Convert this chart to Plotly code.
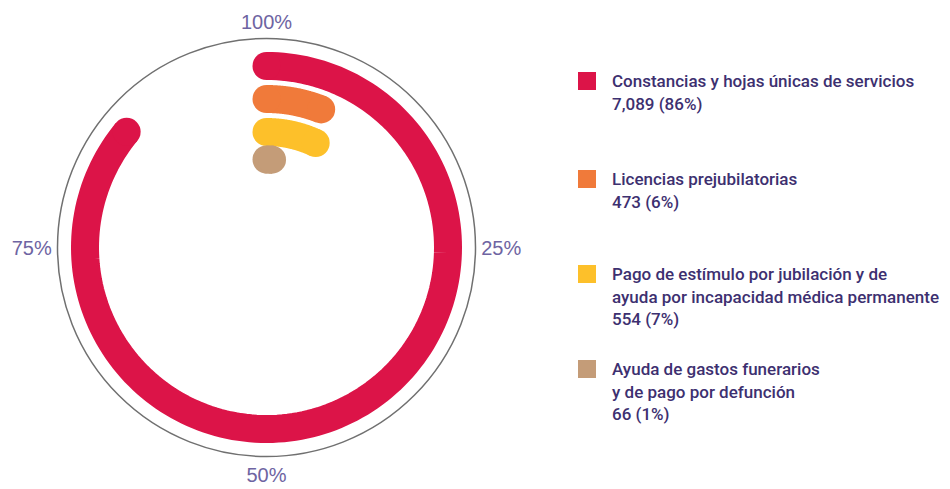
import numpy as np
import plotly.graph_objects as go

# ---- data ----
categories = [
    "Constancias y hojas únicas de servicios",
    "Licencias prejubilatorias",
    "Pago de estímulo por jubilación y de<br>ayuda por incapacidad médica permanente",
    "Ayuda de gastos funerarios<br>y de pago por defunción",
]
counts = [7089, 473, 554, 66]
percents = [86, 6, 7, 1]
colors = ["#DC1448", "#F07A3A", "#FDC02A", "#C49C78"]
tick_vals = [0, 90, 180, 270]
tick_labels = ["100%", "25%", "50%", "75%"]

# ---- style ----
ring_r = [181.5, 148.5, 115.5, 88.0]
R_MAX = 209.0
LINE_W = 28
TXT = "#3D3070"
TICK_TXT = "#6E64A2"
FONT = "Roboto, Liberation Sans, sans-serif"
TICK_FONT = "Liberation Sans, Roboto, sans-serif"

fig = go.Figure()
for cat, pct, col, r in zip(categories, percents, colors, ring_r):
    end = pct * 3.6
    th = np.linspace(0, end, 180)
    fig.add_trace(go.Scatterpolar(
        r=[r] * len(th), theta=th, mode="lines",
        line=dict(color=col, width=LINE_W), hoverinfo="skip", showlegend=False))
    fig.add_trace(go.Scatterpolar(
        r=[r, r], theta=[0, end], mode="markers",
        marker=dict(color=col, size=LINE_W, line=dict(width=0)),
        hoverinfo="skip", showlegend=False))

W, H = 950, 489
cx, cy = 266.5, 247.5
fig.update_layout(
    width=W, height=H,
    margin=dict(l=0, r=0, t=0, b=0),
    paper_bgcolor="white",
    showlegend=False,
    polar=dict(
        domain=dict(x=[(cx - R_MAX) / W, (cx + R_MAX) / W],
                    y=[(H - cy - R_MAX) / H, (H - cy + R_MAX) / H]),
        bgcolor="white",
        radialaxis=dict(visible=False, range=[0, R_MAX]),
        angularaxis=dict(
            direction="clockwise", rotation=90,
            tickmode="array", tickvals=tick_vals, ticktext=tick_labels,
            showgrid=False, ticks="outside", ticklen=1, tickcolor="rgba(0,0,0,0)",
            showline=True, linecolor="#707070", linewidth=1.5,
            tickfont=dict(family=TICK_FONT, size=20, color=TICK_TXT),
        ),
    ),
)

# ---- legend (squares + text) ----
leg_x_sq = 587
leg_x_txt = 610
item_top = [81, 179, 274, 369]
line_step = 22.5
for cat, cnt, pct, col, yc in zip(categories, counts, percents, colors, item_top):
    fig.add_shape(type="rect", xref="paper", yref="paper",
                  x0=(leg_x_sq - 9) / W, x1=(leg_x_sq + 9) / W,
                  y0=(H - yc - 9) / H, y1=(H - yc + 9) / H,
                  fillcolor=col, line=dict(width=0))
    lines = cat.split("<br>") + [f"{cnt:,} ({pct}%)"]
    for i, ln in enumerate(lines):
        y = yc + i * line_step
        fig.add_annotation(x=leg_x_txt / W, y=(H - y) / H, xref="paper", yref="paper",
                           text=ln, showarrow=False, xanchor="left", yanchor="middle",
                           font=dict(family=FONT, size=17, color=TXT, weight=500))

fig.write_html("out.html", config={"displayModeBar": False},
               post_script="document.body.style.margin='0';")
